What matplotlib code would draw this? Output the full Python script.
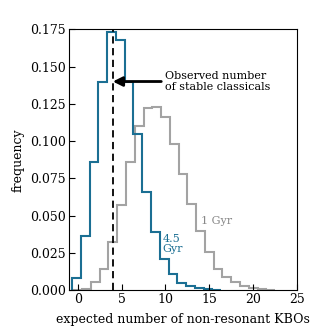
import numpy as np
import matplotlib
matplotlib.use("Agg")
import matplotlib.pyplot as plt

plt.rcParams['font.family'] = ['DejaVu Serif']

# Data (normalized frequencies)
edges_45 = np.arange(-0.65, 16.4, 1.0)
freq_45 = [0.008, 0.036, 0.086, 0.140, 0.173, 0.168, 0.140, 0.105, 0.066,
           0.039, 0.021, 0.011, 0.005, 0.003, 0.0013, 0.0004, 0.0001]

edges_1 = np.arange(-0.5, 23.0, 1.0)
freq_1 = [0.0, 0.001, 0.0054, 0.0143, 0.0326, 0.0574, 0.0857, 0.110, 0.1219,
          0.1228, 0.1165, 0.098, 0.078, 0.0577, 0.0399, 0.0253, 0.0142,
          0.0086, 0.0053, 0.0030, 0.0015, 0.0006, 0.0002]

observed = 4
xticks = [0, 5, 10, 15, 20, 25]
yticks = [0.0, 0.025, 0.05, 0.075, 0.1, 0.125, 0.15, 0.175]

blue = '#1b6f93'
grey = '#a3a3a3'

fig = plt.figure(figsize=(3.3, 3.3), dpi=100)
ax = fig.add_axes([0.209, 0.121, 0.691, 0.790])

ax.stairs(freq_1, edges_1, color=grey, lw=1.5, baseline=0)
ax.stairs(freq_45, edges_45[:len(freq_45) + 1], color=blue, lw=1.5, baseline=0)
ax.axvline(observed, color='black', ls='--', lw=1.3, dashes=(4, 2.5))

ax.annotate('Observed number\nof stable classicals', xy=(observed, 0.14),
            xytext=(10.0, 0.14), ha='left', va='center', fontsize=8,
            arrowprops=dict(arrowstyle='-|>', color='black', lw=2.0,
                            mutation_scale=14, shrinkA=1, shrinkB=0))

ax.text(9.7, 0.031, '4.5\nGyr', color=blue, fontsize=8, ha='left',
        va='center', linespacing=1.0)
ax.text(14.0, 0.0465, '1 Gyr', color='#888888', fontsize=8, ha='left',
        va='center')

ax.set_xlim(-1, 25)
ax.set_ylim(0, 0.175)
ax.set_xticks(xticks)
ax.set_yticks(yticks)
ax.set_yticklabels([f'{v:.3f}' for v in yticks])
ax.tick_params(direction='in', length=4, width=0.8, labelsize=9, pad=2)
ax.set_xlabel('expected number of non-resonant KBOs', fontsize=9, labelpad=5)
ax.set_ylabel('frequency', fontsize=9, labelpad=4)

fig.savefig('out.png', dpi=100)
